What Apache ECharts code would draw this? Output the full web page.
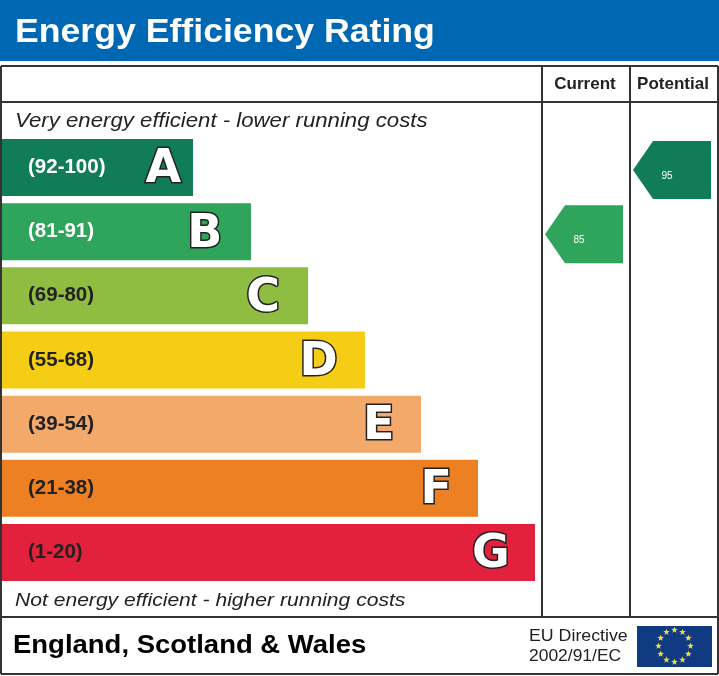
<!DOCTYPE html>
<html>
<head>
<meta charset="utf-8">
<title>Energy Efficiency Rating</title>
<style>
html, body { margin: 0; padding: 0; background: #fff; }
#container { width: 719px; height: 676px; }
</style>
<script src="https://cdn.jsdelivr.net/npm/echarts@6/dist/echarts.min.js"></script>
</head>
<body>
<div id="container"></div>
<script>
var bands = ['A', 'B', 'C', 'D', 'E', 'F', 'G'];
var bandRanges = ['(92-100)', '(81-91)', '(69-80)', '(55-68)', '(39-54)', '(21-38)', '(1-20)'];
var bandLengths = [191, 249, 306, 363, 419, 476, 533];
var bandColors = ['#117d58', '#2ea55b', '#8fbd42', '#f6cd15', '#f2a96a', '#ee8024', '#e3213c'];
var bandFloors = [92, 81, 69, 55, 39, 21, 1];
var ratingColumns = ['Current', 'Potential'];
var ratingValues = [85, 95];

var myChart = echarts.init(document.getElementById('container'));

function bandIndex(rating) {
	for (var i = 0; i < bandFloors.length; i++) {
		if (rating >= bandFloors[i]) return i;
	}
	return bandFloors.length - 1;
}

function textEl(str, x, y, font, fill, scaleX) {
	return {
		type: 'text',
		x: x,
		y: y,
		scaleX: scaleX || 1,
		z: 10,
		style: { text: str, x: 0, y: 0, font: font, fill: fill, textVerticalAlign: 'middle' }
	};
}

function frameLine(x1, y1, x2, y2) {
	return {
		type: 'line',
		z: 8,
		shape: { x1: x1, y1: y1, x2: x2, y2: y2 },
		style: { stroke: '#333333', lineWidth: 2 }
	};
}

// EU flag stars
function starEl(cx, cy, r) {
	var pts = [];
	for (var i = 0; i < 10; i++) {
		var a = -Math.PI / 2 + i * Math.PI / 5;
		var rr = i % 2 ? r * 0.4 : r;
		pts.push([cx + rr * Math.cos(a), cy + rr * Math.sin(a)]);
	}
	return { type: 'polygon', z: 10, shape: { points: pts }, style: { fill: '#f6dc3c' } };
}

var graphics = [
	{ type: 'rect', z: 1, shape: { x: 0, y: 0, width: 719, height: 61 }, style: { fill: '#0068b3' } },
	textEl('Energy Efficiency Rating', 15, 33, 'bold 33px "Liberation Sans"', '#ffffff', 1.08),
	frameLine(1, 66, 718, 66),
	frameLine(1, 102, 718, 102),
	frameLine(1, 617, 718, 617),
	frameLine(1, 674, 718, 674),
	frameLine(1, 66, 1, 674),
	frameLine(718, 66, 718, 674),
	frameLine(542, 66, 542, 617),
	frameLine(630, 66, 630, 617),
	textEl('Very energy efficient - lower running costs', 15, 121, 'italic 20px "Liberation Sans"', '#222222', 1.11),
	textEl('Not energy efficient - higher running costs', 15, 601, 'italic 19px "Liberation Sans"', '#222222', 1.11),
	textEl('England, Scotland & Wales', 13, 646, 'bold 26px "Liberation Sans"', '#000000', 1.057),
	textEl('EU Directive', 529, 637, '16px "Liberation Sans"', '#222222', 1.11),
	textEl('2002/91/EC', 529, 657, '16px "Liberation Sans"', '#222222', 1.09),
	{ type: 'rect', z: 9, shape: { x: 637, y: 626, width: 75, height: 41 }, style: { fill: '#103a82' } }
];
for (var s = 0; s < 12; s++) {
	var ang = s * Math.PI / 6;
	graphics.push(starEl(674.5 + 16 * Math.sin(ang), 646 - 16 * Math.cos(ang), 3.5));
}

var option = {
	animation: false,
	backgroundColor: '#ffffff',
	graphic: graphics,
	grid: [
		{ left: 2, top: 135.4, width: 700, height: 449.2 },
		{ left: 541, top: 137.9, width: 176, height: 449.2 }
	],
	xAxis: [
		{ type: 'value', gridIndex: 0, min: 0, max: 700, show: false },
		{
			type: 'category',
			gridIndex: 1,
			position: 'top',
			data: ratingColumns,
			axisLine: { show: false },
			axisTick: { show: false },
			axisLabel: {
				interval: 0,
				hideOverlap: false,
				margin: 45,
				color: '#222222',
				fontFamily: 'Liberation Sans',
				fontWeight: 'bold',
				fontSize: 17
			}
		}
	],
	yAxis: [
		{
			type: 'category',
			gridIndex: 0,
			inverse: true,
			data: bands,
			z: 5,
			axisLine: { show: false },
			axisTick: { show: false },
			axisLabel: {
				inside: true,
				margin: 26,
				fontFamily: 'Liberation Sans',
				fontWeight: 'bold',
				fontSize: 20.5,
				color: function(value) {
					return bands.indexOf(value) < 2 ? '#ffffff' : '#222222';
				},
				formatter: function(value) {
					return bandRanges[bands.indexOf(value)];
				}
			}
		},
		{ type: 'category', gridIndex: 1, inverse: true, data: bands, show: false }
	],
	series: [
		{
			type: 'bar',
			name: 'Band',
			xAxisIndex: 0,
			yAxisIndex: 0,
			barWidth: 57,
			silent: true,
			data: bandLengths.map(function(len, i) {
				return {
					value: len,
					itemStyle: { color: bandColors[i] },
					label: {
						show: true,
						position: 'insideRight',
						distance: i === 0 ? 12 : 29.5 - 0.7 * i,
						offset: [0, 3],
						formatter: bands[i],
						fontFamily: 'DejaVu Sans',
						fontWeight: 'bold',
						fontSize: 46,
						color: '#ffffff',
						textBorderColor: '#222222',
						textBorderWidth: 3
					}
				};
			})
		},
		{
			type: 'scatter',
			name: 'Rating',
			xAxisIndex: 1,
			yAxisIndex: 1,
			silent: true,
			symbol: 'path://M20 0L78 0L78 58L20 58L0 29Z',
			symbolSize: [78, 58],
			symbolOffset: [-1, 0],
			data: ratingValues.map(function(rating, i) {
				var b = bandIndex(rating);
				return {
					value: [ratingColumns[i], bands[b]],
					rating: rating,
					itemStyle: { color: bandColors[b], opacity: 1 }
				};
			}),
			label: {
				show: true,
				position: 'inside',
				offset: [-5, 6],
				color: '#ffffff',
				fontFamily: 'Liberation Sans',
				fontSize: 10,
				formatter: function(p) {
					return String(p.data.rating);
				}
			}
		}
	]
};

if (option && typeof option === 'object') {
	myChart.setOption(option, true);
}
</script>
</body>
</html>
